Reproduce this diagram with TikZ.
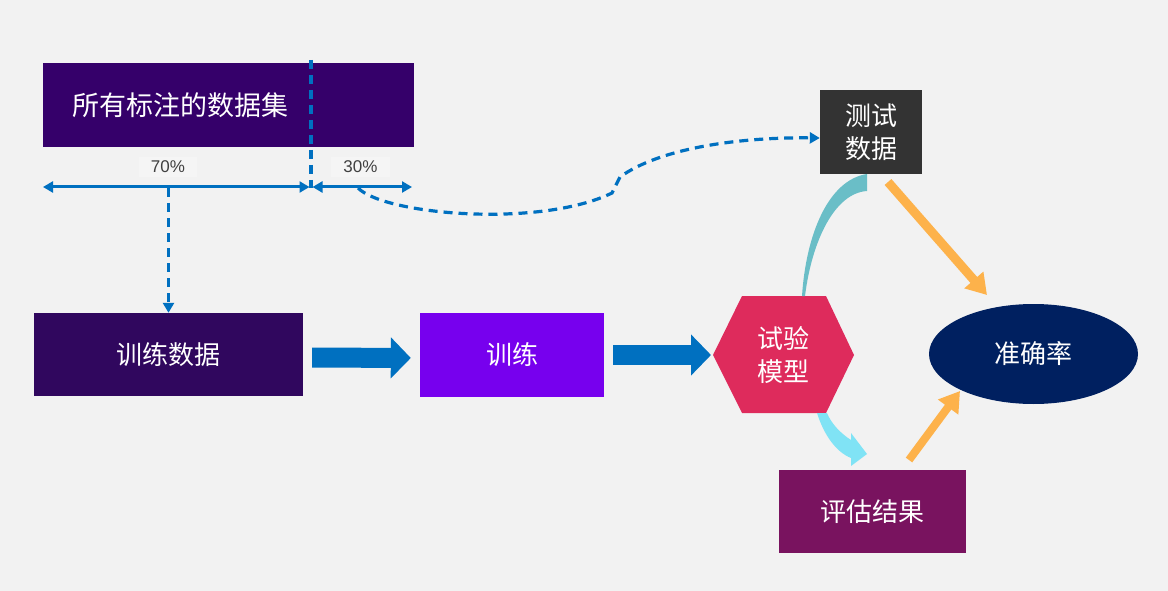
\documentclass[tikz,border=0pt]{standalone}
\usepackage{fontspec}
\setmainfont{Liberation Sans}
\newfontfamily\cjk{Noto Sans CJK SC}
\usetikzlibrary{arrows.meta,shapes.geometric}
\definecolor{bgc}{HTML}{F2F2F2}
\definecolor{topc}{HTML}{35006A}
\definecolor{trdc}{HTML}{30075E}
\definecolor{trainc}{HTML}{7700EE}
\definecolor{hexc}{HTML}{DE2B5C}
\definecolor{testc}{HTML}{333333}
\definecolor{accc}{HTML}{002060}
\definecolor{evalc}{HTML}{79135F}
\definecolor{bluec}{HTML}{0070C0}
\definecolor{tealc}{HTML}{6ABEC7}
\definecolor{cyanc}{HTML}{80E3F5}
\definecolor{orangec}{HTML}{FDB24B}
\definecolor{pctc}{HTML}{404040}
\definecolor{lblc}{HTML}{F5F5F5}
\begin{document}
\begin{tikzpicture}[x=1pt,y=-1pt,
  box/.style={inner sep=0pt, text=white, align=center,
    font=\cjk\fontsize{26}{33}\selectfont},
  pct/.style={text=pctc, fill=lblc, inner xsep=12pt, inner ysep=4pt,
    font=\fontsize{17}{20}\selectfont},
  blueline/.style={draw=bluec, line width=3pt},
  bluedash/.style={draw=bluec, line width=3.2pt, dash pattern=on 9pt off 6pt},
  smalltip/.style={-{Triangle[width=11pt,length=10pt]}},
  bothtips/.style={{Triangle[width=11pt,length=10pt]}-{Triangle[width=11pt,length=10pt]}},
  blockarrow/.style={draw=bluec, line width=20pt, -{Triangle[width=40pt,length=20pt]}},
  orangearrow/.style={draw=orangec, line width=9pt, -{Triangle[width=24pt,length=20pt]}},
]
\fill[bgc] (0,0) rectangle (1168,591);
\useasboundingbox (0,0) rectangle (1168,591);

% top data set box
\node[box, fill=topc, minimum width=371pt, minimum height=84pt] (all) at (228.5,105) {};
\node[box, anchor=west, font=\cjk\fontsize{27}{33}\selectfont] (alltxt) at (72,105) {所有标注的数据集};

% split line
\coordinate (splitT) at (311,60);
\coordinate (splitB) at (311,188);
\draw[bluedash] (splitT) -- (splitB);

% 70% / 30% ranges
\coordinate (L0) at (43,187);
\coordinate (L1) at (309.5,187);
\coordinate (R0) at (312.5,187);
\coordinate (R1) at (412,187);
\node[pct] (p70) at (168,167) {70\%};
\node[pct] (p30) at (360.5,167) {30\%};
\draw[blueline, bothtips] (L0) -- (L1);
\draw[blueline, bothtips] (R0) -- (R1);

% nodes
\node[box, fill=trdc, minimum width=269pt, minimum height=83pt] (trd) at (168.5,354.5) {训练数据};
\node[box, fill=trainc, minimum width=184pt, minimum height=84pt] (train) at (512,355) {训练};
\coordinate (hexW) at (713,355);
\fill[hexc] (hexW) -- (742,296) -- (826,296) -- (854,355) -- (826,413) -- (742,413) -- cycle;
\node[box] (hex) at (783.5,355) {试验\\模型};
\node[box, fill=testc, minimum width=102pt, minimum height=84pt] (test) at (871,132) {测试\\数据};
\node[box, fill=accc, ellipse, minimum width=209pt, minimum height=100pt] (acc) at (1033.5,354) {准确率};
\node[box, fill=evalc, minimum width=187pt, minimum height=83pt] (eval) at (872.5,511.5) {评估结果};

% 70% -> training data
\coordinate (c70) at (168.5,188);
\draw[bluedash, smalltip] (c70) -- (trd.north);

% 30% -> test data
\coordinate (c30) at (358,188);
\draw[bluedash, smalltip] (c30) .. controls (385,215) and (540,228) .. (612,193)
  -- (620,177) .. controls (660,148) and (740,137) .. ([yshift=-6pt]test.west);

% block arrows
\draw[blockarrow, shorten <=9pt, shorten >=9pt] ([yshift=-3pt]trd.east) -- ([yshift=-3pt]train.west);
\draw[blockarrow, shorten <=9pt, shorten >=2pt] (train.east) -- (hexW);

% teal connector hexagon -> test data
\fill[tealc] (802,296) .. controls (806,235) and (828,180) .. (867,174)
  -- (867,191) .. controls (835,193) and (812,240) .. (805,296) -- cycle;

% cyan arrow hexagon -> evaluation
\fill[cyanc] (817,413) .. controls (824,435) and (836,452) .. (851,458)
  -- (851,466) -- (867,454) -- (851,433) -- (851,440)
  .. controls (840,433) and (831,423) .. (827,413) -- cycle;

% orange arrows
\coordinate (o1s) at (888,182);
\coordinate (o1e) at (987,295);
\draw[orangearrow] (o1s) -- (o1e);
\coordinate (o2s) at (909,460);
\coordinate (o2e) at (960,391);
\draw[orangearrow, line width=8pt] (o2s) -- (o2e);
\end{tikzpicture}
\end{document}
